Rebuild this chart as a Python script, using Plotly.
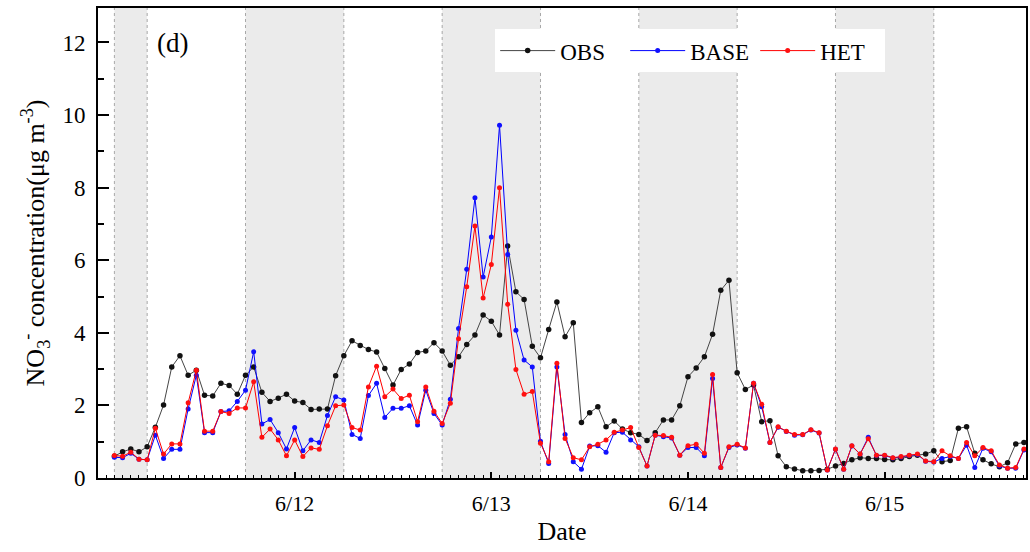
import pandas as pd
import plotly.graph_objects as go

# Hourly data, 6/11 02:00 -> 6/15 17:00
start_time = "2019-06-11 02:00"
n_hours = 112

obs = [0.60, 0.72, 0.80, 0.72, 0.86, 1.40, 2.01, 3.06, 3.37, 2.83,
       2.97, 2.28, 2.26, 2.61, 2.55, 2.31, 2.83, 3.06, 2.36, 2.11,
       2.20, 2.31, 2.12, 2.08, 1.89, 1.90, 1.90, 2.82, 3.37, 3.78,
       3.65, 3.54, 3.47, 3.02, 2.56, 2.99, 3.14, 3.46, 3.50, 3.73,
       3.50, 3.11, 3.34, 3.68, 3.94, 4.49, 4.32, 3.94, 6.39, 5.13,
       4.92, 3.63, 3.31, 4.09, 4.85, 3.89, 4.28, 1.53, 1.80, 1.96,
       1.41, 1.57, 1.35, 1.25, 1.20, 1.03, 1.25, 1.60, 1.60, 1.99,
       2.79, 3.03, 3.34, 3.96, 5.17, 5.45, 2.90, 2.44, 2.56, 1.55,
       1.58, 0.61, 0.31, 0.25, 0.20, 0.20, 0.21, 0.24, 0.33, 0.40,
       0.50, 0.56, 0.54, 0.54, 0.51, 0.50, 0.54, 0.59, 0.63, 0.66,
       0.75, 0.45, 0.48, 1.37, 1.41, 0.68, 0.50, 0.39, 0.31, 0.42,
       0.94, 0.98]

base = [0.57, 0.56, 0.68, 0.52, 0.50, 1.18, 0.54, 0.79, 0.79, 1.90,
        2.83, 1.25, 1.25, 1.83, 1.85, 2.11, 2.42, 3.48, 1.49, 1.61,
        1.25, 0.80, 1.39, 0.75, 1.05, 0.98, 1.72, 2.24, 2.15, 1.20,
        1.09, 2.27, 2.61, 1.67, 1.92, 1.92, 1.99, 1.46, 2.42, 1.78,
        1.46, 2.17, 4.12, 5.75, 7.72, 5.54, 6.64, 9.72, 6.16, 4.07,
        3.25, 3.06, 1.01, 0.40, 3.06, 1.20, 0.45, 0.24, 0.88, 0.89,
        0.71, 1.25, 1.26, 1.05, 0.86, 0.33, 1.18, 1.14, 1.10, 0.63,
        0.84, 0.84, 0.61, 2.74, 0.29, 0.84, 0.91, 0.82, 2.61, 1.96,
        0.98, 1.40, 1.28, 1.18, 1.19, 1.32, 1.24, 0.22, 0.79, 0.24,
        0.88, 0.66, 1.12, 0.62, 0.62, 0.55, 0.58, 0.62, 0.65, 0.46,
        0.44, 0.54, 0.59, 0.54, 0.90, 0.29, 0.82, 0.72, 0.33, 0.27,
        0.27, 0.77]

het = [0.62, 0.60, 0.71, 0.52, 0.50, 1.37, 0.66, 0.94, 0.94, 2.07,
       2.97, 1.29, 1.29, 1.83, 1.78, 1.93, 1.93, 2.65, 1.12, 1.35,
       1.05, 0.61, 1.05, 0.59, 0.83, 0.79, 1.44, 1.99, 2.01, 1.39,
       1.32, 2.51, 3.08, 2.24, 2.45, 2.19, 2.28, 1.55, 2.51, 1.84,
       1.50, 2.06, 3.84, 5.27, 6.94, 4.96, 5.88, 8.00, 4.79, 2.99,
       2.31, 2.38, 0.96, 0.45, 3.16, 1.09, 0.56, 0.50, 0.86, 0.93,
       1.05, 1.26, 1.32, 1.39, 0.84, 0.33, 1.18, 1.17, 1.12, 0.63,
       0.89, 0.93, 0.68, 2.85, 0.29, 0.86, 0.93, 0.83, 2.61, 2.03,
       0.98, 1.41, 1.29, 1.20, 1.20, 1.33, 1.25, 0.22, 0.80, 0.24,
       0.89, 0.66, 1.08, 0.63, 0.63, 0.56, 0.59, 0.63, 0.66, 0.47,
       0.45, 0.75, 0.61, 0.54, 0.98, 0.61, 0.84, 0.75, 0.36, 0.27,
       0.29, 0.80]

night_periods = [("2019-06-11 02:00", "2019-06-11 06:00"),
                 ("2019-06-11 18:00", "2019-06-12 06:00"),
                 ("2019-06-12 18:00", "2019-06-13 06:00"),
                 ("2019-06-13 18:00", "2019-06-14 06:00"),
                 ("2019-06-14 18:00", "2019-06-15 06:00")]

tick_dates = ["2019-06-12", "2019-06-13", "2019-06-14", "2019-06-15"]
tick_labels = ["6/12", "6/13", "6/14", "6/15"]

times = pd.date_range(start_time, periods=n_hours, freq="h")

FONT = "Liberation Serif, Times New Roman, serif"

fig = go.Figure()
fig.add_trace(go.Scatter(x=times, y=obs, name="OBS", mode="lines+markers",
                         line=dict(color="#454545", width=1),
                         marker=dict(color="#111111", size=5.5, symbol="circle")))
fig.add_trace(go.Scatter(x=times, y=base, name="BASE", mode="lines+markers",
                         line=dict(color="#0000ff", width=1),
                         marker=dict(color="#1010ff", size=5, symbol="circle")))
fig.add_trace(go.Scatter(x=times, y=het, name="HET", mode="lines+markers",
                         line=dict(color="#ff0000", width=1),
                         marker=dict(color="#ff1010", size=5, symbol="circle")))

shapes = []
for a, b in night_periods:
    shapes.append(dict(type="rect", xref="x", yref="paper", x0=a, x1=b, y0=0, y1=1,
                       fillcolor="#ebebeb", line=dict(width=0), layer="below"))
    for xv in (a, b):
        shapes.append(dict(type="line", xref="x", yref="paper", x0=xv, x1=xv, y0=0, y1=1,
                           line=dict(color="#a8a8a8", width=1, dash="dot"), layer="below"))

fig.update_layout(
    width=1030, height=552,
    margin=dict(l=98, r=2, t=8, b=74),
    paper_bgcolor="white", plot_bgcolor="white",
    font=dict(family=FONT, size=22, color="black"),
    shapes=shapes,
    showlegend=True,
    legend=dict(orientation="h", x=0.428, y=0.955, xanchor="left", yanchor="top",
                bgcolor="white", font=dict(size=23, family=FONT),
                itemwidth=55, entrywidth=60, tracegroupgap=0, itemsizing="trace"),
    annotations=[dict(text="(d)", xref="paper", yref="paper", x=0.061, y=0.925,
                      xanchor="left", yanchor="middle", showarrow=False,
                      font=dict(size=27, family=FONT))],
)

fig.update_xaxes(
    range=["2019-06-11 00:00", "2019-06-15 17:15"],
    tickvals=tick_dates, ticktext=tick_labels,
    ticks="inside", ticklen=6, tickwidth=1.5, tickcolor="black",
    minor=dict(ticks="inside", dtick=3600000, ticklen=3, tickcolor="black", tickwidth=1),
    showline=True, linecolor="black", linewidth=2, mirror=True,
    showgrid=False, zeroline=False,
    tickfont=dict(size=22, family=FONT),
    ticklabelstandoff=5,
    title=dict(text="Date", font=dict(size=26, family=FONT), standoff=6),
)

fig.update_yaxes(
    range=[0, 12.95], dtick=2, tick0=0,
    ticks="inside", ticklen=11, tickwidth=1.5, tickcolor="black",
    minor=dict(ticks="inside", dtick=1, ticklen=6, tickcolor="black", tickwidth=1.5),
    showline=True, linecolor="black", linewidth=2, mirror=True,
    showgrid=False, zeroline=False,
    tickfont=dict(size=23, family=FONT),
    ticklabelstandoff=6,
    title=dict(text="NO<sub>3</sub><sup>-</sup> concentration(μg m<sup>-3</sup>)",
               font=dict(size=26, family=FONT), standoff=10),
)

fig.write_html("out.html")
